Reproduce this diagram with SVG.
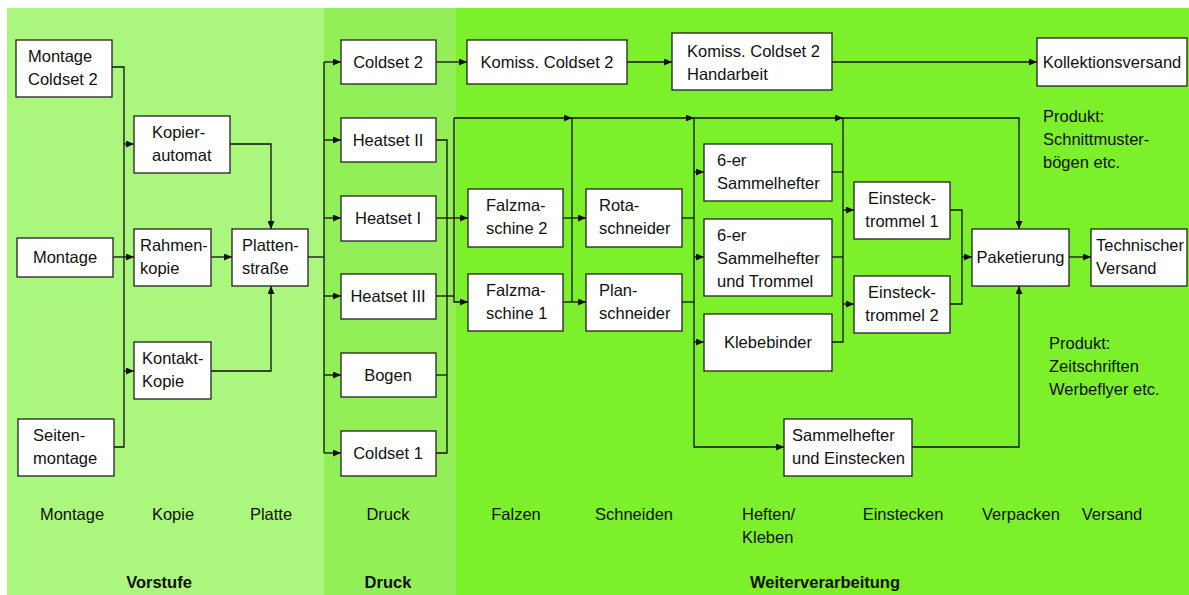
<svg xmlns="http://www.w3.org/2000/svg" width="1189" height="595" viewBox="0 0 1189 595">
<defs>
<marker id="ah" markerUnits="userSpaceOnUse" markerWidth="8" markerHeight="7" refX="8" refY="3.5" orient="auto"><path d="M0,0 L8,3.5 L0,7 z" fill="#111"/></marker>
<style>
.n{fill:#fff;stroke:#222;stroke-width:1.3}
.t{font-family:"Liberation Sans",Arial,sans-serif;font-size:16.5px;fill:#111}
.m{text-anchor:middle}
.b{font-weight:bold}
.c{fill:none;stroke:#111;stroke-width:1.3}
.a{marker-end:url(#ah)}
</style>
</defs>
<rect x="0" y="0" width="1189" height="595" fill="#fff"/>
<g id="panels">
<rect x="7" y="8" width="317" height="587" fill="#abf67d"/>
<rect x="324" y="8" width="132" height="587" fill="#93ef58"/>
<rect x="456" y="8" width="733" height="587" fill="#7bf02b"/>
</g>
<g id="connectors">
<path class="c" d="M112,67 H124 V447 H114"/>
<path class="c a" d="M124,144 H134"/>
<path class="c a" d="M113,257 H134"/>
<path class="c a" d="M124,371 H134"/>
<path class="c a" d="M230,144 H271 V229"/>
<path class="c a" d="M211,257 H232"/>
<path class="c a" d="M211,371 H271 V286"/>
<path class="c" d="M308,257 H324"/>
<path class="c" d="M324,62 V453"/>
<path class="c a" d="M324,62 H341"/>
<path class="c a" d="M324,140 H341"/>
<path class="c a" d="M324,218 H341"/>
<path class="c a" d="M324,296 H341"/>
<path class="c a" d="M324,375 H341"/>
<path class="c a" d="M324,453 H341"/>
<path class="c a" d="M436,62 H467"/>
<path class="c a" d="M627,62 H672"/>
<path class="c a" d="M832,62 H1037"/>
<path class="c" d="M436,140 H447 V453 H436"/>
<path class="c" d="M436,375 H447"/>
<path class="c a" d="M436,218 H468"/>
<path class="c" d="M436,296 H454"/>
<path class="c a" d="M454,118 V302 H468"/>
<path class="c a" d="M454,118 H572"/>
<path class="c a" d="M572,118 H694"/>
<path class="c a" d="M694,118 H843"/>
<path class="c a" d="M843,118 H1019 V229"/>
<path class="c" d="M572,118 V302"/>
<path class="c a" d="M563,218 H586"/>
<path class="c a" d="M563,302 H586"/>
<path class="c" d="M682,218 H694"/>
<path class="c" d="M682,302 H694"/>
<path class="c a" d="M694,118 V447 H784"/>
<path class="c a" d="M694,172 H704"/>
<path class="c a" d="M694,257 H704"/>
<path class="c a" d="M694,342 H704"/>
<path class="c" d="M832,172 H843"/>
<path class="c" d="M832,257 H843"/>
<path class="c" d="M832,342 H843 V118"/>
<path class="c a" d="M843,210 H854"/>
<path class="c a" d="M843,304 H854"/>
<path class="c" d="M950,210 H962 V304 H950"/>
<path class="c a" d="M962,257 H972"/>
<path class="c a" d="M912,447 H1019 V286"/>
<path class="c a" d="M1069,257 H1091"/>
</g>
<g id="montage-coldset2"><rect class="n" x="16" y="40" width="96" height="57"/><text class="t" x="28" y="62">Montage</text><text class="t" x="28" y="85">Coldset  2</text></g>
<g id="montage"><rect class="n" x="17" y="238" width="96" height="39"/><text class="t m" x="65" y="263">Montage</text></g>
<g id="seitenmontage"><rect class="n" x="18" y="419" width="96" height="57"/><text class="t" x="33" y="441">Seiten-</text><text class="t" x="33" y="464">montage</text></g>
<g id="kopierautomat"><rect class="n" x="134" y="116" width="96" height="57"/><text class="t" x="152" y="138">Kopier-</text><text class="t" x="152" y="161">automat</text></g>
<g id="rahmenkopie"><rect class="n" x="134" y="229" width="77" height="57"/><text class="t" x="140" y="251">Rahmen-</text><text class="t" x="140" y="274">kopie</text></g>
<g id="kontaktkopie"><rect class="n" x="134" y="342" width="77" height="57"/><text class="t" x="142" y="364">Kontakt-</text><text class="t" x="142" y="387">Kopie</text></g>
<g id="plattenstrasse"><rect class="n" x="232" y="229" width="76" height="57"/><text class="t" x="242" y="251">Platten-</text><text class="t" x="242" y="274">straße</text></g>
<g id="coldset2"><rect class="n" x="341" y="40" width="95" height="44"/><text class="t m" x="388" y="68">Coldset 2</text></g>
<g id="heatset2"><rect class="n" x="341" y="118" width="95" height="44"/><text class="t m" x="388" y="146">Heatset II</text></g>
<g id="heatset1"><rect class="n" x="341" y="196" width="95" height="45"/><text class="t m" x="388" y="224">Heatset I</text></g>
<g id="heatset3"><rect class="n" x="341" y="274" width="95" height="45"/><text class="t m" x="388" y="302">Heatset III</text></g>
<g id="bogen"><rect class="n" x="341" y="353" width="95" height="44"/><text class="t m" x="388" y="381">Bogen</text></g>
<g id="coldset1"><rect class="n" x="341" y="431" width="95" height="45"/><text class="t m" x="388" y="459">Coldset 1</text></g>
<g id="komiss"><rect class="n" x="467" y="40" width="160" height="44"/><text class="t m" x="547" y="68">Komiss. Coldset 2</text></g>
<g id="komiss-hand"><rect class="n" x="672" y="33" width="160" height="57"/><text class="t" x="687" y="57">Komiss. Coldset 2</text><text class="t" x="687" y="80">Handarbeit</text></g>
<g id="kollektionsversand"><rect class="n" x="1037" y="38" width="150" height="48"/><text class="t m" x="1112" y="68">Kollektionsversand</text></g>
<g id="falz2"><rect class="n" x="468" y="189" width="95" height="58"/><text class="t" x="486" y="211">Falzma-</text><text class="t" x="486" y="234">schine 2</text></g>
<g id="falz1"><rect class="n" x="468" y="274" width="95" height="57"/><text class="t" x="486" y="296">Falzma-</text><text class="t" x="486" y="319">schine 1</text></g>
<g id="rotaschneider"><rect class="n" x="586" y="189" width="96" height="58"/><text class="t" x="599" y="211">Rota-</text><text class="t" x="599" y="234">schneider</text></g>
<g id="planschneider"><rect class="n" x="586" y="274" width="96" height="57"/><text class="t" x="599" y="296">Plan-</text><text class="t" x="599" y="319">schneider</text></g>
<g id="sammel6"><rect class="n" x="704" y="144" width="128" height="57"/><text class="t" x="717" y="166">6-er</text><text class="t" x="717" y="189">Sammelhefter</text></g>
<g id="sammel6-trommel"><rect class="n" x="704" y="219" width="128" height="77"/><text class="t" x="717" y="241">6-er</text><text class="t" x="717" y="264">Sammelhefter</text><text class="t" x="717" y="287">und Trommel</text></g>
<g id="klebebinder"><rect class="n" x="704" y="314" width="128" height="57"/><text class="t m" x="768" y="348">Klebebinder</text></g>
<g id="sammel-einstecken"><rect class="n" x="784" y="419" width="128" height="57"/><text class="t" x="792" y="441">Sammelhefter</text><text class="t" x="792" y="464">und Einstecken</text></g>
<g id="einsteck1"><rect class="n" x="854" y="182" width="96" height="57"/><text class="t m" x="902" y="204">Einsteck-</text><text class="t m" x="902" y="227">trommel 1</text></g>
<g id="einsteck2"><rect class="n" x="854" y="276" width="96" height="57"/><text class="t m" x="902" y="298">Einsteck-</text><text class="t m" x="902" y="321">trommel 2</text></g>
<g id="paketierung"><rect class="n" x="972" y="229" width="97" height="57"/><text class="t m" x="1020.5" y="263">Paketierung</text></g>
<g id="technischer-versand"><rect class="n" x="1091" y="229" width="96" height="57"/><text class="t" x="1096" y="251">Technischer</text><text class="t" x="1096" y="274">Versand</text></g>
<g id="notes">
<text class="t" x="1043" y="122">Produkt:</text><text class="t" x="1043" y="145">Schnittmuster-</text><text class="t" x="1043" y="168">bögen etc.</text>
<text class="t" x="1049" y="349">Produkt:</text><text class="t" x="1049" y="372">Zeitschriften</text><text class="t" x="1049" y="395">Werbeflyer etc.</text>
</g>
<g id="labels">
<text class="t m" x="72" y="520">Montage</text>
<text class="t m" x="173" y="520">Kopie</text>
<text class="t m" x="271" y="520">Platte</text>
<text class="t m" x="388" y="520">Druck</text>
<text class="t m" x="516" y="520">Falzen</text>
<text class="t m" x="634" y="520">Schneiden</text>
<text class="t" x="742" y="520">Heften/</text><text class="t" x="742" y="543">Kleben</text>
<text class="t m" x="903" y="520">Einstecken</text>
<text class="t m" x="1021" y="520">Verpacken</text>
<text class="t m" x="1112" y="520">Versand</text>
<text class="t m b" x="159" y="588">Vorstufe</text>
<text class="t m b" x="388" y="588">Druck</text>
<text class="t m b" x="825" y="588">Weiterverarbeitung</text>
</g>
</svg>
